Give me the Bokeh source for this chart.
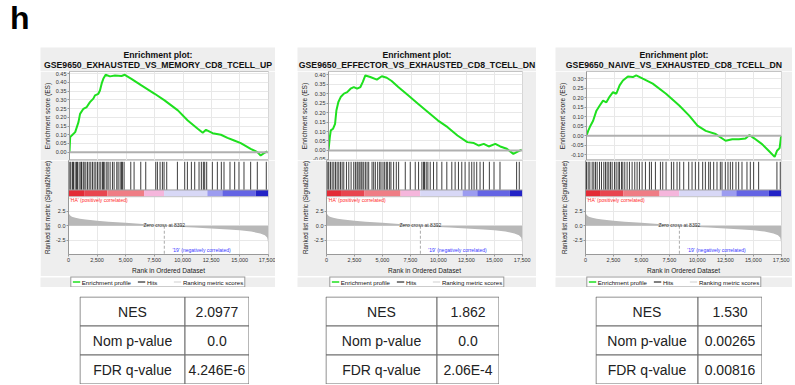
from bokeh.plotting import figure
from bokeh.layouts import column, row
from bokeh.models import (Range1d, Spacer, SingleIntervalTicker, FixedTicker, NumeralTickFormatter,
                          Grid, Legend, LegendItem, Span, BoxAnnotation)
from bokeh.core.properties import value
from bokeh.embed import file_html
from bokeh.resources import INLINE

FONT = "Liberation Sans"
PANEL_BG = "#eeeeee"
GREEN = "#1fe01f"

# ---------------- data ----------------
panel_letter = "h"
plot_title = "Enrichment plot:"
set_names = ["GSE9650_EXHAUSTED_VS_MEMORY_CD8_TCELL_UP",
             "GSE9650_EFFECTOR_VS_EXHAUSTED_CD8_TCELL_DN",
             "GSE9650_NAIVE_VS_EXHAUSTED_CD8_TCELL_DN"]

es1_rank = [0, 58, 200, 500, 790, 930, 1225, 1517, 1800, 2100, 2245, 2540, 2680, 2830, 2975, 3180,
            3560, 4000, 4580, 4870, 5450, 6330, 7500, 8370, 9540, 10410, 11290, 11730, 12020, 12600,
            13330, 13910, 14500, 15080, 15950, 16540, 16830, 17120, 17410]
es1_val = [0.0, 0.086, 0.096, 0.115, 0.172, 0.22, 0.249, 0.259, 0.287, 0.307, 0.326, 0.335, 0.354,
           0.393, 0.421, 0.444, 0.435, 0.44, 0.437, 0.444, 0.421, 0.383, 0.335, 0.297, 0.24, 0.182,
           0.134, 0.111, 0.128, 0.109, 0.1, 0.082, 0.067, 0.052, 0.019, 0.0, -0.019, -0.006, 0.004]

es2_rank = [0, 119, 208, 416, 594, 713, 891, 1100, 1396, 1693, 1990, 2288, 2585, 2882, 3090, 3327,
            3773, 4367, 4813, 5259, 5705, 6300, 7190, 8081, 8972, 9864, 10755, 11646, 12537, 13131,
            13577, 14023, 14469, 15063, 15509, 16103, 16697, 16994, 17440]
es2_val = [0.0, 0.07, 0.106, 0.115, 0.141, 0.211, 0.256, 0.282, 0.30, 0.308, 0.326, 0.335, 0.326,
           0.335, 0.361, 0.396, 0.388, 0.374, 0.392, 0.384, 0.367, 0.335, 0.291, 0.247, 0.203, 0.159,
           0.123, 0.079, 0.044, 0.039, 0.026, 0.035, 0.021, 0.035, 0.021, 0.009, -0.018, -0.009, 0.004]

es3_rank = [0, 149, 357, 595, 893, 1190, 1488, 1786, 2083, 2381, 2678, 2976, 3274, 3720, 4167, 4464,
            5059, 5952, 7143, 8333, 9226, 9970, 10714, 11607, 12500, 13095, 13690, 14286, 14643,
            15030, 15774, 16369, 16905, 17113, 17351, 17470, 17500]
es3_val = [0.0, 0.026, 0.053, 0.079, 0.132, 0.159, 0.185, 0.176, 0.206, 0.229, 0.221, 0.265, 0.291,
           0.312, 0.309, 0.318, 0.30, 0.274, 0.221, 0.159, 0.106, 0.053, 0.026, 0.009, -0.026, -0.018,
           -0.018, -0.014, 0.004, -0.012, -0.044, -0.079, -0.111, -0.079, -0.065, -0.009, 0.0]

hits1 = [117, 204, 350, 438, 583, 700, 788, 933, 1079, 1138, 1283, 1371, 1517, 1663, 1809, 1954,
         2100, 2246, 2392, 2538, 2684, 2829, 2975, 3063, 3180, 3355, 3471, 3646, 3850, 3996, 4230,
         4346, 4521, 4638, 4726, 4871, 5455, 5746, 6330, 6767, 7642, 7788, 8022, 8226, 8372, 8605,
         9539, 10180, 10414, 10764, 11056, 11435, 11639, 11814, 11931, 12106, 12601, 13039, 13389,
         13622, 14147, 14556, 14935, 15373, 15956, 16539, 17327]
hits2 = [119, 208, 357, 505, 654, 802, 951, 1099, 1248, 1396, 1545, 1783, 1991, 2199, 2436, 2585,
         2733, 2822, 2971, 3090, 3179, 3328, 3476, 3625, 3773, 4070, 4219, 4367, 4575, 4754, 4872,
         5051, 5199, 5348, 5467, 5645, 5764, 6001, 6239, 6447, 7041, 7487, 7933, 8230, 8527, 8675,
         8764, 8913, 9062, 9270, 9567, 9864, 10309, 10755, 11201, 11498, 11795, 12092, 12389, 12746,
         12983, 13191, 13429, 13726, 14023, 14558, 14974, 15508, 16994, 17232]
hits3 = [89, 238, 387, 595, 744, 893, 1042, 1250, 1428, 1637, 1786, 1934, 2083, 2232, 2381, 2589,
         2738, 2916, 3036, 3214, 3333, 3512, 3720, 3928, 4166, 4405, 4613, 4821, 5059, 5357, 5714,
         5892, 6250, 6696, 6904, 7202, 7678, 7886, 8184, 8422, 8779, 9226, 9523, 9821, 10118, 10475,
         10714, 11011, 11160, 11458, 11755, 12053, 12202, 12499, 12737, 12946, 13154, 13452, 13690,
         13988, 14434, 14731, 15029, 15476, 17112, 17410]

metric_rank = [0, 50, 150, 300, 600, 1000, 1500, 2500, 3500, 5000, 6500, 7500, 8392, 9500, 11000,
               12500, 14000, 15000, 16000, 16800, 17200, 17400, 17460, 17480]
metric_val = [2.4, 2.0, 1.75, 1.55, 1.35, 1.2, 1.05, 0.85, 0.7, 0.5, 0.3, 0.18, 0.0, -0.15, -0.3,
              -0.45, -0.62, -0.78, -1.0, -1.3, -1.6, -2.0, -2.5, -3.0]
zero_cross = 8392

cb_edges = [0, 1371, 3400, 6622, 8372, 12164, 13477, 16394, 17500]
cb_colors = ["#e32b36", "#e8454f", "#ef7d85", "#f5b6dc", "#d8d8f6", "#9c9cf0", "#6464e4", "#2323c6"]

pos_label = "'HA' (positively correlated)"
neg_label = "'19' (negatively correlated)"
zero_label = "Zero cross at 8392"
legend_labels = ["Enrichment profile", "Hits", "Ranking metric scores"]

table_labels = ["NES", "Nom p-value", "FDR q-value"]
table_values = [["2.0977", "0.0", "4.246E-6"],
                ["1.862", "0.0", "2.06E-4"],
                ["1.530", "0.00265", "0.00816"]]

es_ranks = [es1_rank, es2_rank, es3_rank]
es_vals = [es1_val, es2_val, es3_val]
hits = [hits1, hits2, hits3]

# ---------------- layout constants ----------------
XMAX = 17520
panel_geo = [dict(W=235, L=28, R=7, es=(-0.048, 0.463)),
             dict(W=239, L=29, R=14, es=(-0.053, 0.417)),
             dict(W=237, L=30, R=11, es=(-0.130, 0.338))]
Y_BOT, Y_CB0, Y_CB1, Y_HIT1, Y_TOP = -4.9, 4.95, 6.1, 10.9, 11.12


def blank(width, height, xr, yr, bg):
    f = figure(width=width, height=height, x_range=xr, y_range=yr, toolbar_location=None,
               output_backend="svg", min_border=0, x_axis_location=None, y_axis_location=None,
               outline_line_color=None, background_fill_color=bg, border_fill_color=bg,
               frame_align=False)
    for g in f.grid:
        g.visible = False
    return f


def style_axis(ax):
    ax.axis_line_color = "#999999"
    ax.major_tick_line_color = "#999999"
    ax.minor_tick_line_color = None
    ax.major_tick_in = 0
    ax.major_tick_out = 2
    ax.major_label_standoff = 1
    ax.major_label_text_font = FONT
    ax.major_label_text_font_size = "5.5px"
    ax.major_label_text_color = "#333333"
    ax.axis_label_text_font = FONT
    ax.axis_label_text_font_size = "6.6px"
    ax.axis_label_text_font_style = "normal"
    ax.axis_label_text_color = "#222222"
    ax.axis_label_standoff = 2


def make_panel(i):
    g = panel_geo[i]
    W, L, R = g["W"], g["L"], g["R"]
    # title strip
    t = blank(W, 24, Range1d(0, W), Range1d(24, 0), PANEL_BG)
    t.text(x=[W / 2, W / 2], y=[7.5, 17.5], text=[plot_title, set_names[i]], text_align="center",
           text_baseline="middle", text_font=value(FONT), text_font_style="bold",
           text_font_size="8.7px", text_color="#111111")

    # enrichment score plot
    es = figure(width=W, height=89, x_range=Range1d(0, XMAX), y_range=Range1d(*g["es"]),
                x_axis_location=None, toolbar_location=None, output_backend="svg",
                min_border_left=L, min_border_right=R, min_border_top=0, min_border_bottom=0,
                background_fill_color="white", border_fill_color=PANEL_BG,
                outline_line_color="#c4c4c4", frame_align=False)
    es.yaxis.ticker = SingleIntervalTicker(interval=0.05, num_minor_ticks=0)
    es.yaxis.formatter = NumeralTickFormatter(format="0.00")
    es.yaxis.axis_label = "Enrichment score (ES)"
    style_axis(es.yaxis[0])
    es.ygrid.grid_line_color = "#e8e8e8"
    es.add_layout(Grid(dimension=0, ticker=SingleIntervalTicker(interval=2500, num_minor_ticks=0),
                       grid_line_color="#e8e8e8"))
    es.add_layout(Span(location=0, dimension="width", line_color="#b0b0b0", line_width=2))
    es.line(es_ranks[i], es_vals[i], line_color=GREEN, line_width=2)

    # hits + ranked list metric plot
    lo = figure(width=W, height=116, x_range=es.x_range, y_range=Range1d(Y_BOT, Y_TOP),
                toolbar_location=None, output_backend="svg",
                min_border_left=L, min_border_right=R, min_border_top=0, min_border_bottom=20,
                background_fill_color="white", border_fill_color=PANEL_BG,
                outline_line_color="#c4c4c4", frame_align=False)
    lo.xaxis.ticker = SingleIntervalTicker(interval=2500, num_minor_ticks=0)
    lo.xaxis.formatter = NumeralTickFormatter(format="0,0")
    lo.xaxis.axis_label = "Rank in Ordered Dataset"
    lo.yaxis.ticker = FixedTicker(ticks=[-2.5, 0, 2.5])
    lo.yaxis.formatter = NumeralTickFormatter(format="0.0")
    lo.yaxis.axis_label = "Ranked list metric (Signal2Noise)"
    style_axis(lo.xaxis[0])
    style_axis(lo.yaxis[0])
    lo.yaxis.axis_label_text_font_size = "6.3px"
    lo.xaxis.axis_label_text_font_size = "6.6px"
    lo.xaxis.axis_label_standoff = 2
    lo.xgrid.grid_line_color = "#e8e8e8"
    lo.ygrid.grid_line_color = "#e8e8e8"
    lo.add_layout(BoxAnnotation(bottom=Y_CB0, fill_color="white", fill_alpha=1, line_color=None,
                                level="underlay"))
    lo.varea(x=metric_rank, y1=0, y2=metric_val, fill_color="#b8b8b8")
    lo.segment(x0=[zero_cross], y0=[0], x1=[zero_cross], y1=[Y_BOT], line_color="#aaaaaa",
               line_dash="3 2", line_width=1)
    lo.quad(left=cb_edges[:-1], right=cb_edges[1:], bottom=Y_CB0, top=Y_CB1, fill_color=cb_colors,
            line_color=None)
    lo.segment(x0=hits[i], y0=Y_CB1, x1=hits[i], y1=Y_HIT1, line_color="black",
               line_width=0.9, line_alpha=0.85)
    lo.add_layout(Span(location=Y_CB1, dimension="width", line_color="#a0a0a0", line_width=1))
    lo.add_layout(Span(location=Y_CB0, dimension="width", line_color="#c4c4c4", line_width=1))
    lo.text(x=[120], y=[4.35], text=[pos_label], text_font=value(FONT), text_font_size="5px",
            text_color="#ff2a2a", text_baseline="middle", text_align="left")
    lo.text(x=[zero_cross], y=[0.1], text=[zero_label], text_font=value(FONT),
            text_font_size="5px", text_color="#333333", text_baseline="middle", text_align="center")
    lo.text(x=[9100], y=[-4.15], text=[neg_label], text_font=value(FONT), text_font_size="5px",
            text_color="#3535ff", text_baseline="middle", text_align="left")

    # legend strip (its renderers hold the same data, but lie outside this strip's ranges)
    lg = blank(W, 11, Range1d(-3, -2), Range1d(-30, -20), PANEL_BG)
    r_es = lg.line(es_ranks[i], es_vals[i], line_color=GREEN, line_width=1.6)
    r_hit = lg.segment(x0=hits[i], y0=Y_CB1, x1=hits[i], y1=Y_HIT1, line_color="black",
                       line_width=1)
    r_rank = lg.line(metric_rank, metric_val, line_color="#cfcfcf", line_width=1)
    legend = Legend(items=[LegendItem(label=legend_labels[0], renderers=[r_es]),
                           LegendItem(label=legend_labels[1], renderers=[r_hit]),
                           LegendItem(label=legend_labels[2], renderers=[r_rank])],
                    orientation="horizontal", location="center", padding=1, margin=0, spacing=6,
                    label_standoff=2, glyph_width=8, glyph_height=6, label_height=6,
                    label_text_font=FONT, label_text_font_size="6.1px", label_text_color="#111111",
                    border_line_color="#333333", border_line_width=1,
                    background_fill_color="white", background_fill_alpha=1)
    lg.add_layout(legend)
    return column(t, es, lo, lg, spacing=0)


def make_table(i, W, split):
    rh = 29
    f = blank(W + 1, 3 * rh + 1, Range1d(-0.5, W + 0.5), Range1d(3 * rh + 0.5, -0.5), "white")
    lefts, rights, tops, bots, xs, ys, texts = [], [], [], [], [], [], []
    for r, (lab, val) in enumerate(zip(table_labels, table_values[i])):
        for (a, b, s) in ((0, split, lab), (split, W, val)):
            lefts.append(a); rights.append(b); tops.append(r * rh); bots.append((r + 1) * rh)
            xs.append((a + b) / 2); ys.append(r * rh + rh / 2 + 0.5); texts.append(s)
    f.quad(left=lefts, right=rights, top=tops, bottom=bots, fill_color="white",
           line_color="#6e6e6e", line_width=1)
    f.text(x=xs, y=ys, text=texts, text_align="center", text_baseline="middle",
           text_font=value(FONT), text_font_size="14px", text_color="#222222")
    return f


header = blank(792, 47, Range1d(0, 792), Range1d(47, 0), "white")
header.text(x=[9.5], y=[17], text=[panel_letter], text_font=value(FONT), text_font_style="bold",
            text_font_size="32px", text_color="black", text_baseline="middle")

panels = row(Spacer(width=40, height=240), make_panel(0), Spacer(width=22, height=240),
             make_panel(1), Spacer(width=19, height=240), make_panel(2), spacing=0)

tables = row(Spacer(width=79, height=88), make_table(0, 169, 105), Spacer(width=76, height=88),
             make_table(1, 173, 111), Spacer(width=96, height=88), make_table(2, 166, 102),
             spacing=0)

layout = column(header, panels, Spacer(width=792, height=9), tables, spacing=0)

open("out.html", "w").write(file_html(layout, INLINE))
